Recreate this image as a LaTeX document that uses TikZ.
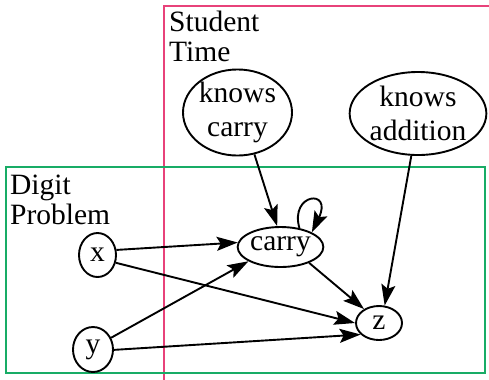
\documentclass[tikz,border=0pt]{standalone}
\usepackage{fontspec}
\setmainfont{Liberation Serif}
\usetikzlibrary{shapes.geometric,arrows.meta}
\definecolor{platepink}{RGB}{232,66,122}
\definecolor{plategreen}{RGB}{24,172,102}
\tikzset{
  var/.style={draw=black, line width=1.9bp, ellipse, inner sep=0pt, align=center,
    font=\fontsize{29.5bp}{34bp}\selectfont},
  platelabel/.style={anchor=north west, inner sep=0pt, align=left,
    font=\fontsize{29.5bp}{29.5bp}\selectfont},
  arr/.style={draw=black, line width=1.9bp,
    -{Stealth[length=21bp, width=14bp, inset=4bp]}},
  plate/.style={line width=2.4bp}
}
\begin{document}
\begin{tikzpicture}[x=1bp, y=-1bp]
  \useasboundingbox (0,0) rectangle (489,379);
  \clip (0,0) rectangle (489,379);
  \fill[white] (0,0) rectangle (489,379);

  % plates
  \draw[plate, platepink] (164,6) rectangle (500,390);
  \draw[plate, plategreen] (6,167) rectangle (485,373);
  \node[platelabel] (studentlbl) at (169,11) {Student\\Time};
  \node[platelabel] (digitlbl) at (10,175) {Digit\\Problem};

  % variables
  \node[var, minimum width=109bp, minimum height=85bp] (kc) at (237.5,112.5) {knows\\carry};
  \node[var, minimum width=130bp, minimum height=83bp] (ka) at (418,113.5) {knows\\addition};
  \node[var, minimum width=73bp, minimum height=40bp] (carry) at (280.5,247) {carry};
  \node[var, minimum width=46bp, minimum height=34bp] (z) at (379,323) {z};
  \node[var, minimum width=37bp, minimum height=44bp] (x) at (97.5,255) {x};
  \node[var, minimum width=40bp, minimum height=45bp] (y) at (93,349.5) {y};

  % dependencies
  \draw[arr] (kc.-68) -- (carry.99);
  \draw[arr] (ka.-99.6) -- (z.72);
  \draw[arr] (x.15) -- (carry.174);
  \draw[arr] (x.-23) -- (z.180);
  \draw[arr] (y.33) -- (carry.204);
  \draw[arr] (y.-1) -- (z.212);
  \draw[arr] (carry.-29) -- (z.137);
  \draw[arr] (carry.45) .. controls +(-10,-35) and +(21,-44) .. (carry.25);
\end{tikzpicture}
\end{document}
